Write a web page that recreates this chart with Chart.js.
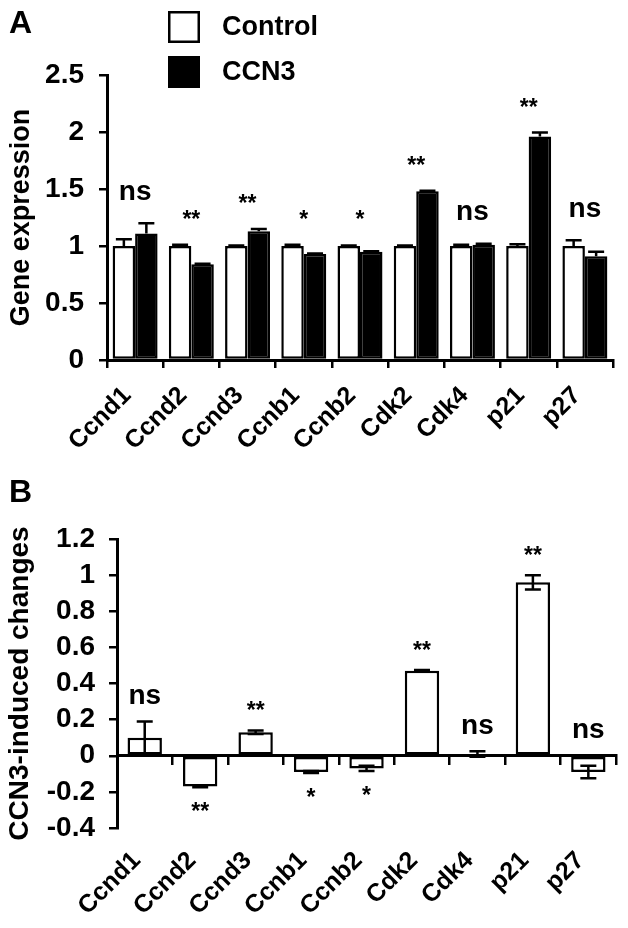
<!DOCTYPE html>
<html><head><meta charset="utf-8">
<script src="https://cdn.jsdelivr.net/npm/chart.js@4/dist/chart.umd.min.js"></script>
<style>
html,body{margin:0;padding:0;background:#fff;}
body{width:628px;height:928px;position:relative;overflow:hidden;font-family:'Liberation Sans',Arial,sans-serif;}
.wrap{position:absolute;left:0;width:628px;height:464px;}
#wa{top:0}#wb{top:464px}
.panel{position:absolute;left:9px;font-weight:bold;font-size:32px;line-height:1;color:#000}
</style></head><body>
<div class="wrap" id="wa"><canvas id="ca" width="628" height="464"></canvas></div>
<div class="wrap" id="wb"><canvas id="cb" width="628" height="464"></canvas></div>
<div class="panel" style="top:6px">A</div>
<div class="panel" style="top:475px">B</div>
<script>
// ---- data ----
const categories = ['Ccnd1','Ccnd2','Ccnd3','Ccnb1','Ccnb2','Cdk2','Cdk4','p21','p27'];
const controlA    = [1.00, 1.00, 1.00, 1.00, 1.00, 1.00, 1.00, 1.00, 1.00];
const controlAErr = [0.06, 0.01, 0.005, 0.01, 0.005, 0.005, 0.01, 0.015, 0.05];
const ccn3A       = [1.11, 0.84, 1.13, 0.93, 0.95, 1.48, 1.01, 1.96, 0.91];
const ccn3AErr    = [0.09, 0.005, 0.02, 0.005, 0.005, 0.005, 0.01, 0.035, 0.04];
const sigA        = ['ns','**','**','*','*','**','ns','**','ns'];
const changesB    = [0.10, -0.17, 0.13, -0.09, -0.07, 0.47, 0.01, 0.96, -0.09];
const changesBErr = [0.09, 0.005, 0.01, 0.005, 0.015, 0.005, 0.015, 0.04, 0.035];
const sigB        = ['ns','**','**','*','*','**','ns','**','ns'];
const yTicksA     = [0, 0.5, 1, 1.5, 2, 2.5];
const yTicksB     = [-0.4, -0.2, 0, 0.2, 0.4, 0.6, 0.8, 1, 1.2];
const seriesNames = ['Control', 'CCN3'];
const yTitleA = 'Gene expression';
const yTitleB = 'CCN3-induced changes';

const FONT = "'Liberation Sans', Arial, Helvetica, sans-serif";
Chart.defaults.font.family = FONT;
Chart.defaults.font.weight = 'bold';
Chart.defaults.color = '#000';

const errorBars = {
  id: 'errorBars',
  afterDatasetsDraw(chart, args, opts) {
    const ctx = chart.ctx, y = chart.scales.y;
    ctx.save();
    ctx.strokeStyle = '#000';
    ctx.lineWidth = opts.lineWidth || 2.5;
    chart.data.datasets.forEach((ds, i) => {
      if (!ds.errors) return;
      const meta = chart.getDatasetMeta(i);
      meta.data.forEach((bar, j) => {
        const v = ds.data[j], e = ds.errors[j];
        const x = bar.x, hw = opts.capHalf || 8;
        const pTop = y.getPixelForValue(v + e);
        const pBot = opts.both ? y.getPixelForValue(v - e) : y.getPixelForValue(v);
        ctx.beginPath();
        ctx.moveTo(x, pBot); ctx.lineTo(x, pTop);
        ctx.moveTo(x - hw, pTop); ctx.lineTo(x + hw, pTop);
        if (opts.both) { ctx.moveTo(x - hw, pBot); ctx.lineTo(x + hw, pBot); }
        ctx.stroke();
      });
    });
    ctx.restore();
  }
};

const sigMarks = {
  id: 'sigMarks',
  afterDraw(chart, args, opts) {
    const ctx = chart.ctx, y = chart.scales.y, x = chart.scales.x;
    ctx.save();
    ctx.fillStyle = '#000';
    ctx.textAlign = 'center';
    ctx.textBaseline = 'alphabetic';
    opts.marks.forEach((m, j) => {
      const cx = x.getPixelForValue(j);
      let top = Infinity, bottom = -Infinity, vmain = 0;
      chart.data.datasets.forEach(ds => {
        const v = ds.data[j], e = ds.errors ? ds.errors[j] : 0;
        top = Math.min(top, y.getPixelForValue(Math.max(v + e, 0)));
        bottom = Math.max(bottom, y.getPixelForValue(v - e));
        vmain = v;
      });
      let cy;
      if (opts.below && m !== 'ns' && vmain < 0) cy = bottom + opts.gapBelow;
      else cy = top - opts.gapAbove;
      if (m === 'ns') {
        ctx.font = 'bold 28px ' + FONT;
        ctx.fillText(m, cx, cy + 7.5);
      } else {
        ctx.font = 'bold 23px ' + FONT;
        ctx.fillText(m, cx, cy + 13);
      }
    });
    ctx.restore();
  }
};

const boxLegend = {
  id: 'boxLegend',
  afterDraw(chart, args, opts) {
    if (!opts.show) return;
    const ctx = chart.ctx;
    ctx.save();
    chart.data.datasets.forEach((ds, i) => {
      const bx = opts.x, by = opts.y + i * opts.step, s = opts.size;
      ctx.fillStyle = ds.backgroundColor;
      ctx.fillRect(bx, by, s, s);
      ctx.strokeStyle = '#000';
      ctx.lineWidth = 2.5;
      ctx.strokeRect(bx + 1.25, by + 1.25, s - 2.5, s - 2.5);
      ctx.fillStyle = '#000';
      ctx.font = 'bold 27px ' + FONT;
      ctx.textAlign = 'left';
      ctx.textBaseline = 'middle';
      ctx.fillText(ds.label, opts.textX, by + s / 2 + 1);
    });
    ctx.restore();
  }
};

const axisLine = { color: '#000', width: 3 };
const tickGrid = { drawOnChartArea: false, drawTicks: true, tickLength: 8, color: '#000', lineWidth: 2.5 };

// ---- Chart A ----
new Chart(document.getElementById('ca'), {
  type: 'bar',
  data: {
    labels: categories,
    datasets: [
      { label: seriesNames[0], data: controlA, errors: controlAErr, backgroundColor: '#fff', borderColor: '#000', borderWidth: 2.5, borderSkipped: false },
      { label: seriesNames[1], data: ccn3A, errors: ccn3AErr, backgroundColor: '#000', borderColor: '#000', borderWidth: 2.5, borderSkipped: false }
    ]
  },
  options: {
    responsive: false, animation: false, devicePixelRatio: 1,
    datasets: { bar: { categoryPercentage: 0.8, barPercentage: 1.0 } },
    layout: { padding: { top: 75, right: 15, left: 0, bottom: 0 } },
    plugins: {
      legend: { display: false }, tooltip: { enabled: false },
      errorBars: { both: false, capHalf: 8 },
      sigMarks: { marks: sigA, gapAbove: 31 },
      boxLegend: { show: true, x: 168, y: 11, step: 45, size: 32, textX: 222 }
    },
    scales: {
      x: {
        offset: true, z: 1,
        grid: Object.assign({ offset: true }, tickGrid),
        border: axisLine,
        ticks: { autoSkip: false, minRotation: 45, maxRotation: 45, font: { size: 25, weight: 'bold' }, color: '#000', padding: 13, labelOffset: -8 },
        afterFit(s) { s.height = 104; }
      },
      y: {
        min: 0, max: 2.5, z: 1,
        afterBuildTicks(s) { s.ticks = yTicksA.map(v => ({ value: v })); },
        ticks: { autoSkip: false, callback: v => String(v), font: { size: 28, weight: 'bold' }, color: '#000', padding: 15 },
        grid: tickGrid,
        border: axisLine,
        title: { display: true, text: yTitleA, font: { size: 27, weight: 'bold' }, color: '#000', padding: { top: 5, bottom: 0 } },
        afterFit(s) { s.width = 107; }
      }
    }
  },
  plugins: [errorBars, sigMarks, boxLegend]
});

// ---- Chart B ----
new Chart(document.getElementById('cb'), {
  type: 'bar',
  data: {
    labels: categories,
    datasets: [
      { label: yTitleB, data: changesB, errors: changesBErr, backgroundColor: '#fff', borderColor: '#000', borderWidth: 2.5, borderSkipped: false, xAxisID: 'x' }
    ]
  },
  options: {
    responsive: false, animation: false, devicePixelRatio: 1,
    datasets: { bar: { categoryPercentage: 1.0, barPercentage: 0.62 } },
    layout: { padding: { top: 75, right: 8, left: 0, bottom: 0 } },
    plugins: {
      legend: { display: false }, tooltip: { enabled: false },
      errorBars: { both: true, capHalf: 8 },
      sigMarks: { marks: sigB, gapAbove: 25, gapBelow: 19, below: true },
      boxLegend: { show: false }
    },
    scales: {
      x: {
        position: { y: 0 }, offset: true, z: 1,
        grid: Object.assign({ offset: true }, tickGrid),
        border: axisLine,
        ticks: { display: false }
      },
      x2: {
        type: 'category', position: 'bottom', offset: true,
        grid: { display: false, drawTicks: false },
        border: { display: false },
        ticks: { autoSkip: false, minRotation: 45, maxRotation: 45, font: { size: 25, weight: 'bold' }, color: '#000', padding: 18, labelOffset: -8 },
        afterFit(s) { s.height = 100; }
      },
      y: {
        min: -0.4, max: 1.2, z: 1,
        afterBuildTicks(s) { s.ticks = yTicksB.map(v => ({ value: v })); },
        ticks: { autoSkip: false, callback: v => String(v), font: { size: 28, weight: 'bold' }, color: '#000', padding: 14 },
        grid: tickGrid,
        border: axisLine,
        title: { display: true, text: yTitleB, font: { size: 28, weight: 'bold' }, color: '#000', padding: { top: 3, bottom: 0 } },
        afterFit(s) { s.width = 117; }
      }
    }
  },
  plugins: [errorBars, sigMarks, boxLegend]
});
</script>
</body></html>
